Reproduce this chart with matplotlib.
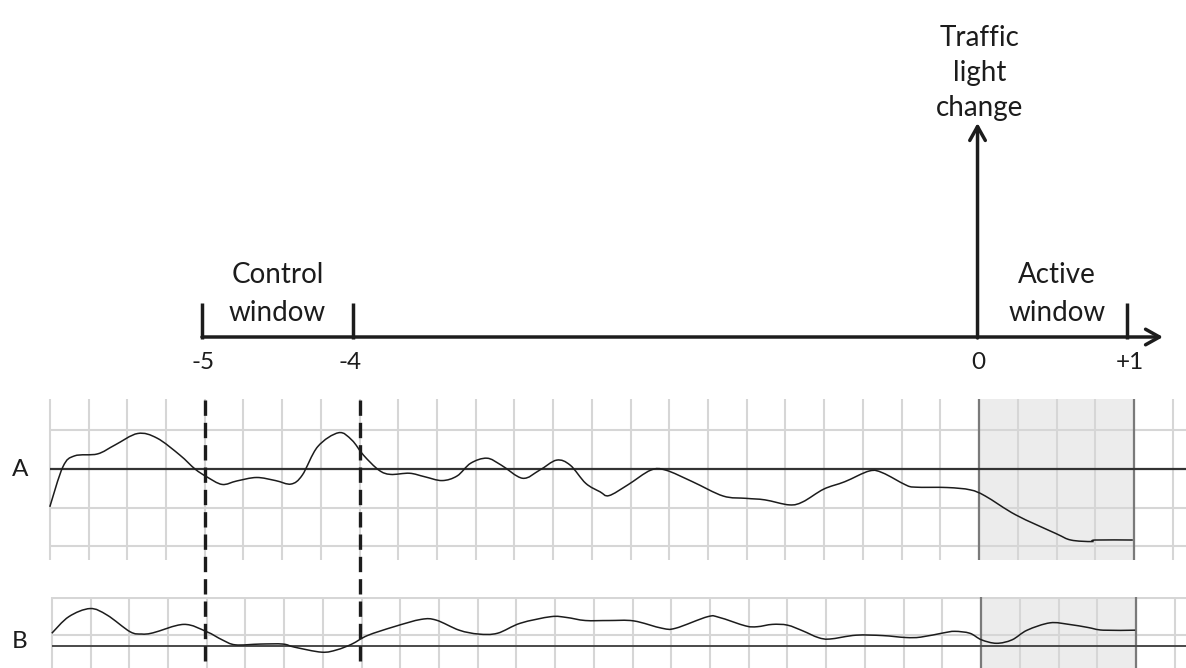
import matplotlib
matplotlib.use('Agg')
import matplotlib.pyplot as plt
from matplotlib.path import Path
from matplotlib.patches import PathPatch
import numpy as np

plt.rcParams['font.family'] = ['Lato', 'DejaVu Sans']

# ---------------- data ----------------
# Panel A trace: x in grid cells, y in grid cells relative to the baseline
a_x = [0.00, 0.34, 0.64, 1.23, 1.68, 2.27, 2.77, 3.36, 3.75, 4.05, 4.45, 4.83,
       5.34, 5.83, 6.23, 6.52, 6.92, 7.46, 7.80, 8.10, 8.50, 8.80, 9.29, 9.68,
       10.13, 10.52, 10.87, 11.29, 11.66, 12.21, 12.65, 13.09, 13.44, 13.84,
       14.21, 14.44, 14.93, 15.52, 15.91, 16.60, 17.39, 17.98, 18.47, 19.10,
       19.45, 19.99, 20.53, 21.17, 21.51, 22.10, 22.35, 23.18, 23.77, 24.16,
       24.95, 25.98, 26.37, 26.91, 27.00, 27.97]
a_y = [-0.98, 0.06, 0.34, 0.39, 0.62, 0.92, 0.80, 0.36, 0.00, -0.20, -0.40, -0.31,
       -0.22, -0.30, -0.39, -0.16, 0.58, 0.94, 0.75, 0.36, -0.03, -0.14, -0.11, -0.20,
       -0.30, -0.18, 0.15, 0.28, 0.10, -0.24, -0.03, 0.23, 0.10, -0.37,
       -0.59, -0.69, -0.41, -0.03, -0.03, -0.33, -0.70, -0.76, -0.80, -0.93,
       -0.85, -0.52, -0.33, -0.05, -0.10, -0.41, -0.47, -0.48, -0.54, -0.70,
       -1.19, -1.67, -1.84, -1.88, -1.84, -1.84]

# Panel B trace
b_x = [0.00, 0.44, 0.99, 1.43, 2.02, 2.32, 2.61, 3.41, 4.00, 4.40, 4.74, 5.38,
       5.97, 6.27, 6.97, 7.36, 7.75, 8.15, 8.84, 9.54, 9.93, 10.52, 11.02, 11.51,
       12.10, 12.89, 13.29, 13.78, 14.39, 15.03, 15.76, 16.11, 16.94, 17.24,
       17.92, 18.22, 18.61, 19.00, 19.40, 19.79, 20.09, 20.77, 21.46, 22.05,
       22.44, 23.03, 23.32, 23.71, 24.01, 24.40, 24.80, 25.19, 25.78, 26.27,
       26.76, 27.15, 27.98]
b_y = [0.33, 0.76, 0.97, 0.80, 0.37, 0.31, 0.34, 0.56, 0.37, 0.16, 0.03, 0.05,
       0.05, -0.03, -0.16, -0.10, 0.05, 0.27, 0.50, 0.69, 0.67, 0.41, 0.31, 0.33,
       0.59, 0.76, 0.74, 0.66, 0.66, 0.65, 0.46, 0.46, 0.76, 0.74,
       0.52, 0.50, 0.56, 0.54, 0.39, 0.22, 0.18, 0.28, 0.27, 0.22,
       0.23, 0.34, 0.38, 0.33, 0.16, 0.07, 0.16, 0.41, 0.60, 0.56,
       0.48, 0.41, 0.41]

timeline_labels = ['-5', '-4', '0', '+1']
timeline_ticks = [3.93, 7.83, 23.96, 27.81]
control_label = ['Control', 'window']
active_label = ['Active', 'window']
event_label = ['Traffic', 'light', 'change']
panel_labels = ['A', 'B']
n_grid = 30
control_window = (4, 8)
active_window = (24, 28)

# ---------------- layout ----------------
W, H = 1186, 668
CELL_X, CELL_Y = 38.72, 38.6
GX0 = 49.8
fig = plt.figure(figsize=(W / 100, H / 100), dpi=100)

def add_px_axes(top, bottom):
    return fig.add_axes([0, (H - bottom) / H, 1, (bottom - top) / H])

def smooth_trace(axis, xs, ys, **kw):
    """Draw a smooth curve through the points (Catmull-Rom as cubic Bezier)."""
    p = np.column_stack([xs, ys]).astype(float)
    ext = np.vstack([p[0], p, p[-1]])
    verts = [p[0]]
    codes = [Path.MOVETO]
    for i in range(len(p) - 1):
        p0, p1, p2, p3 = ext[i], ext[i + 1], ext[i + 2], ext[i + 3]
        c1 = p1 + (p2 - p0) / 6.0
        c2 = p2 - (p3 - p1) / 6.0
        verts += [c1, c2, p2]
        codes += [Path.CURVE4] * 3
    axis.add_patch(PathPatch(Path(verts, codes), fill=False, **kw))

INK = '#1c1c1c'
GRID = '#d6d6d6'
SHADE = '#ececec'
EDGE = '#7a7a7a'

# Panel A
axA = add_px_axes(399, 560)
axA.set_xlim(-GX0 / CELL_X, (W - GX0) / CELL_X)
axA.set_ylim((469 - 560) / CELL_Y, (469 - 399) / CELL_Y)
axA.axis('off')
axA.axvspan(*active_window, color=SHADE, zorder=0, lw=0)
ylo, yhi = axA.get_ylim()
axA.vlines(np.arange(n_grid), ylo, yhi, color=GRID, lw=1.5, zorder=1)
xr = axA.get_xlim()[1]
axA.hlines([1, -1, -2], 0, xr, color=GRID, lw=1.5, zorder=1)
axA.vlines(list(active_window), ylo, yhi, color=EDGE, lw=1.6, zorder=2)
axA.hlines([0], 0, xr, color='#333333', lw=1.6, zorder=2)
smooth_trace(axA, a_x, a_y, edgecolor=INK, lw=1.1, zorder=3)

# Panel B
GXB = 51.8
axB = add_px_axes(597, 668)
axB.set_xlim(-GXB / CELL_X, (W - GXB) / CELL_X)
axB.set_ylim((646 - 668) / CELL_Y, (646 - 597) / CELL_Y)
axB.axis('off')
axB.axvspan(*active_window, color=SHADE, zorder=0, lw=0)
ylo, yhi = axB.get_ylim()
axB.vlines(np.arange(n_grid), ylo, yhi, color=GRID, lw=1.5, zorder=1)
xr = axB.get_xlim()[1]
axB.hlines([yhi - 0.02, (646 - 635) / CELL_Y], 0, xr, color=GRID, lw=1.5, zorder=1)
axB.vlines(list(active_window), ylo, yhi, color=EDGE, lw=1.6, zorder=2)
axB.hlines([0], 0, xr, color='#4a4a4a', lw=1.4, zorder=2)
smooth_trace(axB, b_x, b_y, edgecolor=INK, lw=1.1, zorder=3)

# Overlay (x in grid cells, y in pixel rows)
ax = fig.add_axes([0, 0, 1, 1], zorder=5)
ax.set_xlim(-GX0 / CELL_X, (W - GX0) / CELL_X)
ax.set_ylim(H, 0)
ax.axis('off')
ax.patch.set_alpha(0)

# dashed control-window markers
for xv in control_window:
    ax.plot([xv, xv], [400, H + 5], color=INK, lw=2.4, dashes=(4.6, 2.1),
            solid_capstyle='butt', dash_capstyle='butt')

# timeline
LW = 2.5
tip_x = (1163 - GX0) / CELL_X
ax.annotate('', xy=(tip_x, 337), xytext=(timeline_ticks[0], 337),
            arrowprops=dict(arrowstyle='->,head_length=0.5,head_width=0.28',
                            lw=LW, color=INK, shrinkA=0, shrinkB=0,
                            mutation_scale=20))
ax.annotate('', xy=(timeline_ticks[2], 123), xytext=(timeline_ticks[2], 338),
            arrowprops=dict(arrowstyle='->,head_length=0.5,head_width=0.28',
                            lw=LW, color=INK, shrinkA=0, shrinkB=0,
                            mutation_scale=20))
for k in (0, 1, 3):
    ax.plot([timeline_ticks[k]] * 2, [303, 339], color=INK, lw=LW,
            solid_capstyle='butt')

FS_BIG = 20
FS_SMALL = 17.5
for lab, xv in zip(timeline_labels, timeline_ticks):
    off = {'-5': 0.02, '-4': -0.08, '0': 0.02, '+1': 0.09}[lab]
    ax.text(xv + off, 369, lab, ha='center', va='baseline', fontsize=FS_SMALL,
            color=INK)

cx = (277.5 - GX0) / CELL_X
for line, yb in zip(control_label, [283, 321]):
    ax.text(cx, yb, line, ha='center', va='baseline', fontsize=FS_BIG, color=INK)
ax_ = (1057 - GX0) / CELL_X
for line, yb in zip(active_label, [283, 321]):
    ax.text(ax_, yb, line, ha='center', va='baseline', fontsize=FS_BIG, color=INK)
tx = (980 - GX0) / CELL_X
for line, yb in zip(event_label, [46, 81, 116]):
    ax.text(tx, yb, line, ha='center', va='baseline', fontsize=FS_BIG, color=INK)

lx = (20 - GX0) / CELL_X
for lab, yc in zip(panel_labels, [470, 641]):
    ax.text(lx, yc, lab, ha='center', va='center', fontsize=FS_SMALL, color=INK)

fig.savefig('out.png', dpi=100)
